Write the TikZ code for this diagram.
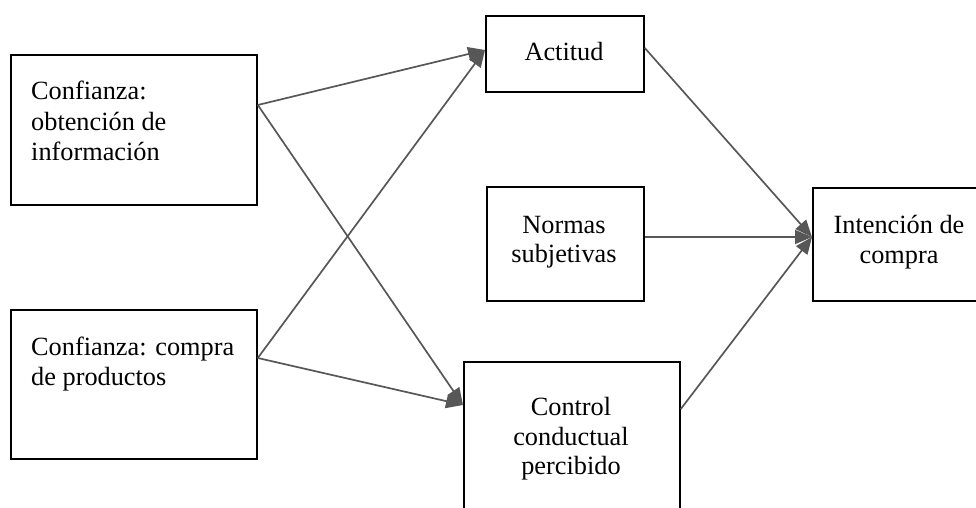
\documentclass[tikz,border=0pt]{standalone}
\usepackage{fontspec}
\setmainfont{Liberation Serif}
\usetikzlibrary{arrows.meta,calc}
\begin{document}
\begin{tikzpicture}[x=1pt,y=-1pt,
  box/.style={draw=black, line width=1.8pt, rectangle, inner sep=0pt, anchor=north west},
  txt/.style={font=\fontsize{26.3}{30}\selectfont, inner sep=0pt, anchor=base west},
  txtc/.style={font=\fontsize{26.3}{30}\selectfont, inner sep=0pt, anchor=base},
  link/.style={draw=black!66, line width=1.7pt, -{Triangle[length=17pt,width=14pt]}}]
\useasboundingbox (0,0) rectangle (976,508);
\clip (0,0) rectangle (976,508);

% boxes
\node[box, minimum width=246pt, minimum height=150pt] (b1) at (10,54) {};
\node[box, minimum width=246pt, minimum height=149pt] (b2) at (10,309) {};
\node[box, minimum width=158pt, minimum height=76pt] (act) at (485,15) {};
\node[box, minimum width=157pt, minimum height=114pt] (nor) at (486,186) {};
\node[box, minimum width=216pt, minimum height=170pt] (ctl) at (463,361) {};
\node[box, minimum width=200pt, minimum height=113pt] (int) at (812,187) {};

% labels
\node[txt] (b1l1) at (31,100) {Confianza:};
\node[txt] (b1l2) at (31,130) {obtención de};
\node[txt] (b1l3) at (31,160) {información};
\node[txt] (b2l1) at (31,355) {Confianza: compra};
\node[txt] (b2l2) at (31,385) {de productos};
\node[txtc] (actl) at (564,61) {Actitud};
\node[txtc] (norl1) at (564,233) {Normas};
\node[txtc] (norl2) at (564,262) {subjetivas};
\node[txtc] (ctll1) at (571,415) {Control};
\node[txtc] (ctll2) at (571,445) {conductual};
\node[txtc] (ctll3) at (571,474) {percibido};
\node[txtc] (intl1) at (899,233) {Intención de};
\node[txtc] (intl2) at (899,263) {compra};

% ports on the box edges
\coordinate (b1out) at ($(b1.north east)+(0,51)$);
\coordinate (b2out) at ($(b2.north east)+(0,49)$);
\coordinate (actin) at ($(act.north west)+(0,35)$);
\coordinate (ctlin) at ($(ctl.north west)+(0,44)$);
\coordinate (actout) at ($(act.north east)+(0,33)$);
\coordinate (norout) at ($(nor.north east)+(0,51)$);
\coordinate (ctlout) at ($(ctl.north east)+(0,48)$);
\coordinate (intin) at ($(int.north west)+(0,50)$);

% connectors
\draw[link] (b1out) -- (actin);
\draw[link] (b1out) -- (ctlin);
\draw[link] (b2out) -- (actin);
\draw[link] (b2out) -- (ctlin);
\draw[link] (actout) -- (intin);
\draw[link] (norout) -- (intin);
\draw[link] (ctlout) -- (intin);
\end{tikzpicture}
\end{document}
